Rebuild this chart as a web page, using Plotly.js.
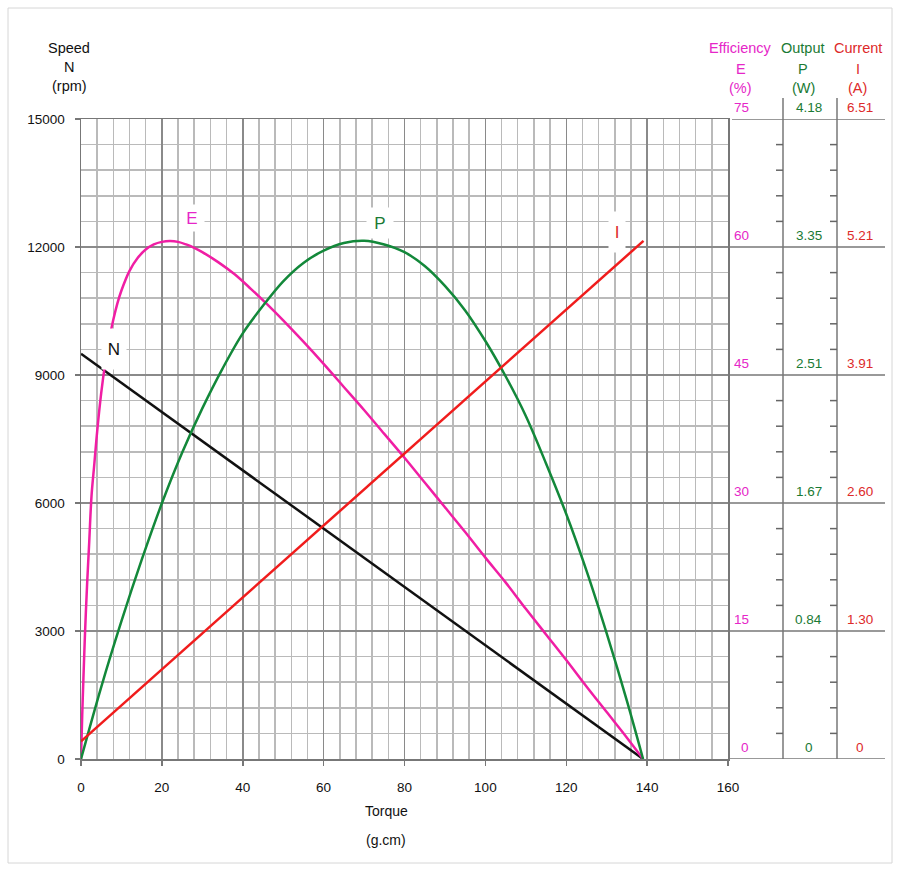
<!DOCTYPE html>
<html>
<head>
<meta charset="utf-8">
<script src="https://cdn.plot.ly/plotly-3.0.1.min.js"></script>
<style>
  html, body { margin: 0; padding: 0; background: #fff; }
  #chart { width: 899px; height: 871px; }
</style>
</head>
<body>
<div id="chart"></div>
<script>
// ---------- DATA ----------
// Speed N (rpm) vs torque (g.cm)
const torqueN = [0, 139];
const speedN = [9500, 0];

// Current I (A) vs torque
const torqueI = [0, 139.1];
const currentI = [0.18, 5.27];

// Efficiency E (%) vs torque
const torqueE = [0, 0.3, 0.6, 1, 1.5, 2, 2.6, 3.3, 4, 5, 6, 7, 8, 9, 10, 12, 14, 16, 18, 20, 22, 24, 26, 28, 30, 34, 38, 42, 46, 50, 55, 60, 65, 70, 75, 80, 85, 90, 95, 100, 105, 110, 115, 120, 125, 130, 135, 139];
const effE    = [0, 5.1, 9.5, 14.8, 20.4, 25.1, 30.8, 34.6, 38.4, 42.9, 46.4, 49.2, 51.5, 53.4, 54.9, 57.2, 58.7, 59.7, 60.3, 60.6, 60.7, 60.6, 60.3, 59.9, 59.4, 58.2, 56.8, 55.1, 53.3, 51.4, 48.9, 46.3, 43.6, 40.9, 38.1, 35.3, 32.4, 29.5, 26.6, 23.6, 20.7, 17.6, 14.6, 11.6, 8.5, 5.5, 2.5, 0];

// Output power P (W) vs torque
const torqueP = [0, 5, 10, 15, 20, 25, 30, 35, 40, 45, 50, 55, 60, 65, 70, 75, 80, 85, 90, 95, 100, 105, 110, 115, 120, 125, 130, 135, 139];
const outP    = [0, 0.47, 0.90, 1.30, 1.67, 2.00, 2.29, 2.55, 2.78, 2.96, 3.12, 3.24, 3.32, 3.37, 3.385, 3.36, 3.31, 3.22, 3.09, 2.93, 2.73, 2.50, 2.24, 1.93, 1.60, 1.23, 0.82, 0.38, 0];

// Axis scales and tick labels
const speedMax = 15000;
const effMax = 75;
const powMax = 4.18;
const curMax = 6.51;
const speedMajor = [0, 3000, 6000, 9000, 12000, 15000];
const effTickText = ['0', '15', '30', '45', '60', '75'];
const powTickText = ['0', '0.84', '1.67', '2.51', '3.35', '4.18'];
const curTickText = ['0', '1.30', '2.60', '3.91', '5.21', '6.51'];

// ---------- STYLE ----------
const FONT = 'Liberation Sans, Arial, sans-serif';
const C_E = '#f01ea4', C_Et = '#e626c8';
const C_P = '#13883a', C_Pt = '#1a7a34';
const C_I = '#f01c1c', C_It = '#dd2a2a';
const C_N = '#111111';
const TXT = '#111111';
const MAJOR = '#8a8a8a', MINOR = '#bababa', AXIS = '#777777';

// pixel -> paper helpers (plot area 81..728 x, 119..759 y)
const L = 81, R = 728, T = 119, B = 759;
const px = x => (x - L) / (R - L);
const py = y => (B - y) / (B - T);

const traces = [
  { x: torqueN, y: speedN, mode: 'lines', line: { color: C_N, width: 2.5 }, yaxis: 'y', hoverinfo: 'skip' },
  { x: torqueI, y: currentI, mode: 'lines', line: { color: C_I, width: 2.5 }, yaxis: 'y4', hoverinfo: 'skip' },
  { x: torqueP, y: outP, mode: 'lines', line: { color: C_P, width: 2.5, shape: 'spline', smoothing: 1 }, yaxis: 'y3', hoverinfo: 'skip' },
  { x: torqueE, y: effE, mode: 'lines', line: { color: C_E, width: 2.5, shape: 'spline', smoothing: 1 }, yaxis: 'y2', hoverinfo: 'skip' }
];

const shapes = [];
// outer frame
shapes.push({ type: 'rect', xref: 'paper', yref: 'paper', x0: px(8), x1: px(892), y0: py(863), y1: py(8),
  line: { color: '#d6d6d6', width: 1 }, layer: 'below' });
// right scale: horizontal lines at major values
speedMajor.forEach((v, i) => {
  shapes.push({ type: 'line', xref: 'paper', yref: 'y', x0: px(i === speedMajor.length - 1 ? 732 : 728), x1: px(885), y0: v, y1: v,
    line: { color: AXIS, width: 1.5 } });
});
// right scale: vertical column lines
[783, 837].forEach(xp => {
  shapes.push({ type: 'line', xref: 'paper', yref: 'paper', x0: px(xp), x1: px(xp), y0: 0, y1: py(98),
    line: { color: AXIS, width: 1.5 } });
});
// right scale: minor tick dashes
for (let v = 600; v < speedMax; v += 600) {
  if (v % 3000 === 0) continue;
  [783, 837].forEach(xp => {
    shapes.push({ type: 'line', xref: 'paper', yref: 'y', x0: px(xp - 7), x1: px(xp), y0: v, y1: v,
      line: { color: '#666', width: 1.5 } });
  });
}

const annotations = [];
function txt(text, x, y, color, size, opts) {
  annotations.push(Object.assign({ text, xref: 'paper', yref: 'paper', x: px(x), y: py(y), showarrow: false,
    xanchor: 'center', yanchor: 'middle', font: { family: FONT, size, color } }, opts || {}));
}
// left title
txt('Speed', 69, 48, TXT, 14.5);
txt('N', 69, 67, TXT, 14.5);
txt('(rpm)', 69, 86, TXT, 14.5);
// right headers
txt('Efficiency', 740, 48, C_Et, 14.5);
txt('E', 741, 69, C_Et, 14.5);
txt('(%)', 740, 88, C_Et, 14.5);
txt('Output', 803, 48, C_Pt, 14.5);
txt('P', 803, 69, C_Pt, 14.5);
txt('(W)', 803, 88, C_Pt, 14.5);
txt('Current', 858, 48, C_It, 14.5);
txt('I', 858, 69, C_It, 14.5);
txt('(A)', 857, 88, C_It, 14.5);
// x title
txt('Torque', 386, 811, TXT, 14);
txt('(g.cm)', 386, 840, TXT, 14);

// right scale tick labels
speedMajor.forEach((v, i) => {
  const base = { xref: 'paper', yref: 'y', y: v, yshift: 12, showarrow: false, yanchor: 'middle' };
  annotations.push(Object.assign({}, base, { text: effTickText[i], x: px(751), xanchor: 'right', font: { family: FONT, size: 13.5, color: C_Et } }));
  annotations.push(Object.assign({}, base, { text: powTickText[i], x: px(809), xanchor: 'center', font: { family: FONT, size: 13.5, color: C_Pt } }));
  annotations.push(Object.assign({}, base, { text: curTickText[i], x: px(860), xanchor: 'center', font: { family: FONT, size: 13.5, color: C_It } }));
});

// curve labels with white background (they mask grid and curves)
function curveLabel(text, torque, v, color, w, h) {
  annotations.push({ text, xref: 'x', yref: 'y', x: torque, y: v, showarrow: false, xanchor: 'center', yanchor: 'middle',
    bgcolor: '#ffffff', width: w, height: h, borderpad: 0, font: { family: FONT, size: 17, color } });
}
curveLabel('E', 27.4, 12690, C_Et, 24, 26);
curveLabel('N', 8.2, 9610, '#111', 24, 40);
curveLabel('P', 73.9, 12560, C_Pt, 26, 30);
curveLabel('I', 132.6, 12360, C_It, 16, 40);

const layout = {
  width: 899, height: 871, autosize: false,
  margin: { l: L, r: 899 - R, t: T, b: 871 - B, pad: 0 },
  paper_bgcolor: '#ffffff', plot_bgcolor: '#ffffff',
  showlegend: false,
  xaxis: {
    range: [0, 160], tick0: 0, dtick: 20, tickmode: 'linear',
    showgrid: true, gridcolor: MAJOR, gridwidth: 1.5,
    minor: { dtick: 4, showgrid: true, gridcolor: MINOR, gridwidth: 1.5, ticks: '' },
    ticks: 'outside', ticklen: 5, tickcolor: AXIS, tickwidth: 1.5,
    showline: true, linecolor: AXIS, linewidth: 1.5, mirror: true,
    zeroline: false, ticklabelstandoff: 10,
    tickfont: { family: FONT, size: 13.5, color: TXT }, fixedrange: true
  },
  yaxis: {
    range: [0, speedMax], tick0: 0, dtick: 3000, tickmode: 'linear', tickformat: 'd',
    showgrid: true, gridcolor: MAJOR, gridwidth: 1.5,
    minor: { dtick: 600, showgrid: true, gridcolor: MINOR, gridwidth: 1.5, ticks: '' },
    ticks: 'outside', ticklen: 5, tickcolor: AXIS, tickwidth: 1.5,
    showline: true, linecolor: AXIS, linewidth: 1.5, mirror: true,
    zeroline: false, ticklabelstandoff: 7,
    tickfont: { family: FONT, size: 13.5, color: TXT }, fixedrange: true
  },
  yaxis2: { overlaying: 'y', range: [0, effMax], visible: false, fixedrange: true },
  yaxis3: { overlaying: 'y', range: [0, powMax], visible: false, fixedrange: true },
  yaxis4: { overlaying: 'y', range: [0, curMax], visible: false, fixedrange: true },
  shapes, annotations
};

Plotly.newPlot('chart', traces, layout, { displayModeBar: false, staticPlot: true });
</script>
</body>
</html>
